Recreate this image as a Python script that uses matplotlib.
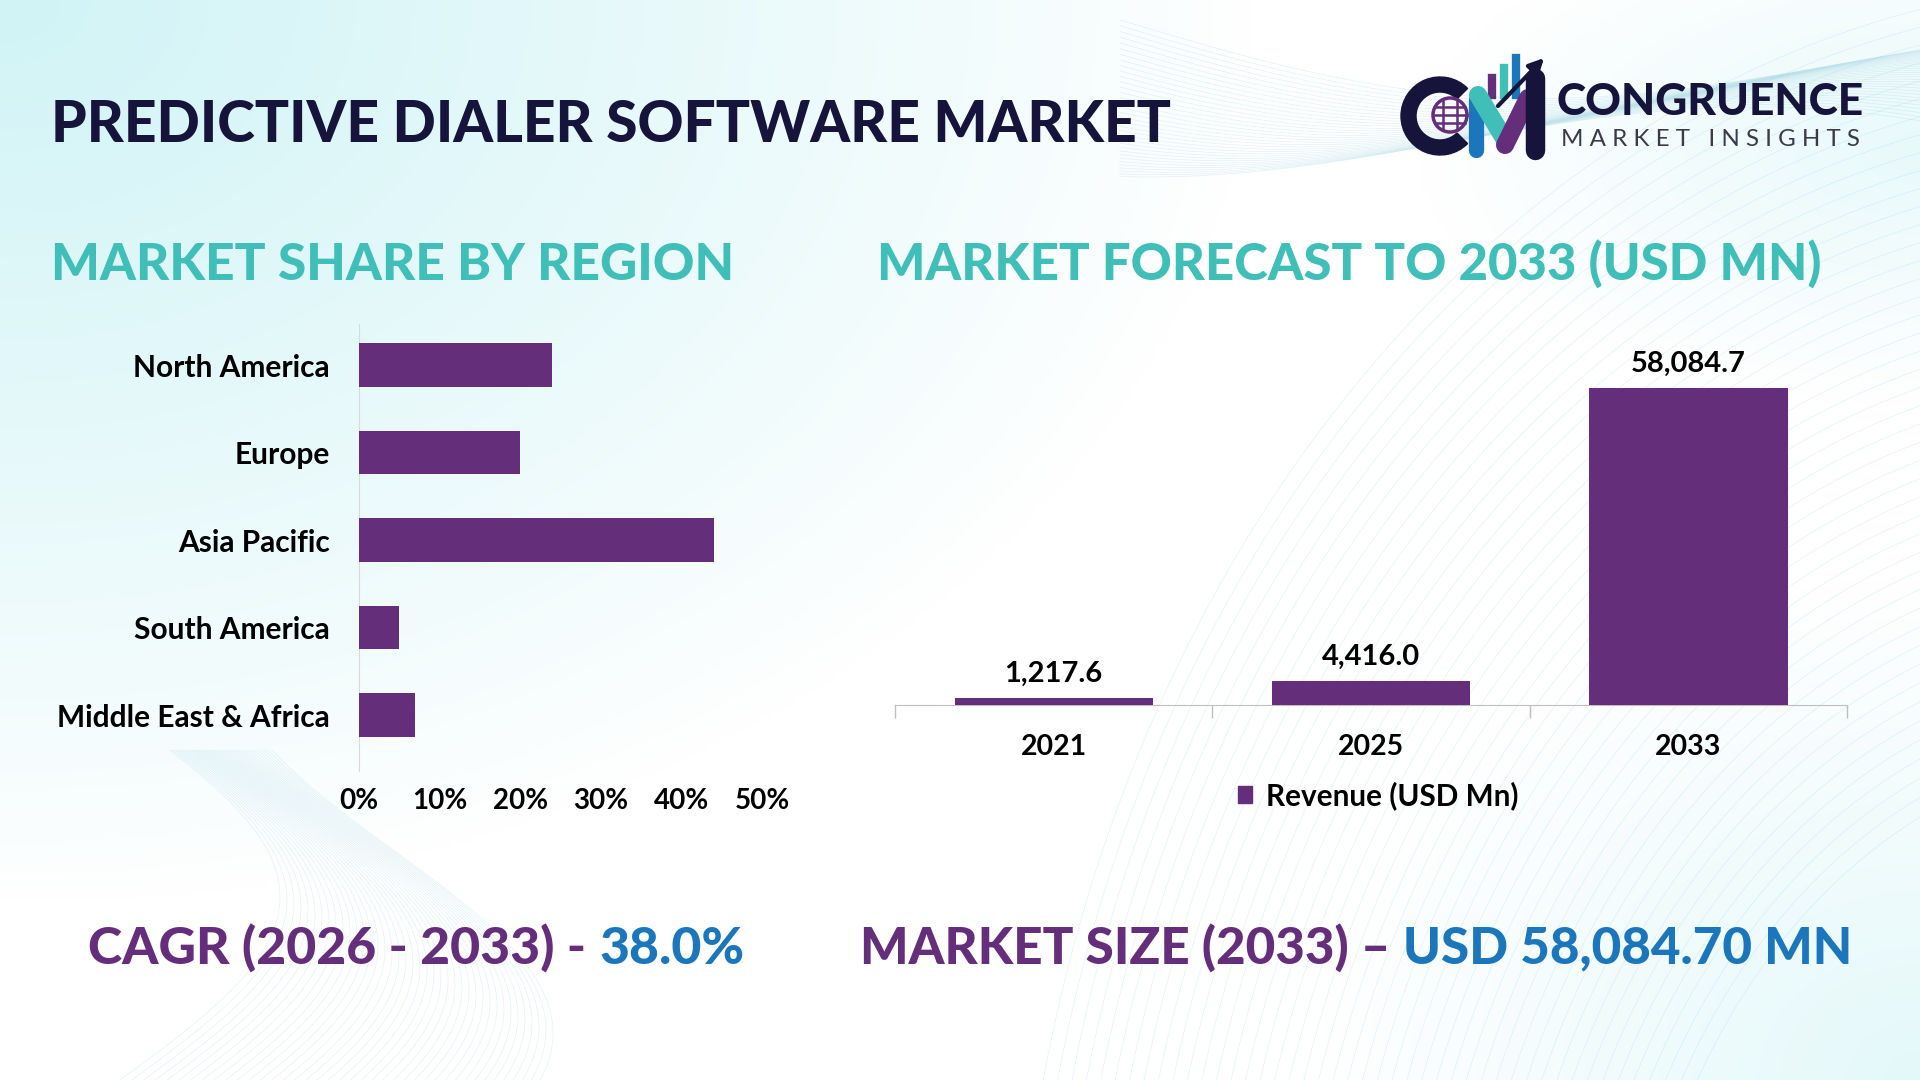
import numpy as np
import matplotlib
matplotlib.use('Agg')
import matplotlib.pyplot as plt
from matplotlib.patches import Patch, Wedge, Circle
from matplotlib import font_manager as fm

# ---------------- data ----------------
regions = ["North America", "Europe", "Asia Pacific", "South America", "Middle East & Africa"]
shares = [24, 20, 44, 5, 7]
share_ticks = [0, 10, 20, 30, 40, 50]
years = ["2021", "2025", "2033"]
revenue = [1217.6, 4416.0, 58084.7]
revenue_labels = ["1,217.6", "4,416.0", "58,084.7"]
title = "PREDICTIVE DIALER SOFTWARE MARKET"
sub_left = "MARKET SHARE BY REGION"
sub_right = "MARKET FORECAST TO 2033 (USD MN)"
cagr_parts = ["CAGR (2026 - 2033) -", "38.0%"]
size_parts = ["MARKET SIZE (2033) \u2013", "USD 58,084.70 MN"]
legend_label = "Revenue (USD Mn)"


def pick(cands):
    names = {f.name for f in fm.fontManager.ttflist}
    for c in cands:
        if c in names:
            return c
    return 'DejaVu Sans'


HEAD = pick(['Lato', 'Roboto', 'DejaVu Sans'])
BODY = pick(['Lato', 'Open Sans', 'DejaVu Sans'])
plt.rcParams['font.family'] = [BODY, 'DejaVu Sans']

PURPLE = '#652e7a'
TEAL = '#3fbfb7'
NAVY = '#16143a'
BLUE = '#1b76bc'

fig = plt.figure(figsize=(19.2, 10.8), dpi=100)
bg = fig.add_axes([0, 0, 1, 1])
bg.set_xlim(0, 1920)
bg.set_ylim(1080, 0)
bg.axis('off')

# background gradient
H, W = 216, 384
yy, xx = np.mgrid[0:H, 0:W]
X = xx * 1920 / W
Y = yy * 1080 / H
w1 = np.clip(1 - np.sqrt((X / 1250) ** 2 + (Y / 900) ** 2), 0, 1) ** 0.9
w2 = np.clip(1 - np.sqrt(((X - 1920) / 600) ** 2 + ((Y - 1080) / 500) ** 2), 0, 1) * 0.6
w3 = np.clip(1 - np.sqrt(((X - 1920) / 500) ** 2 + ((Y - 150) / 250) ** 2), 0, 1) * 0.5
w = np.clip(w1 + w2 + w3, 0, 1)
tint = np.array([0.82, 0.955, 0.965])
img = np.ones((H, W, 3)) * (1 - w[..., None]) + tint * w[..., None]
bg.imshow(img, extent=(0, 1920, 1080, 0), aspect='auto', zorder=0, interpolation='bilinear')

# decorative faint line textures
lc = '#8fcbdc'
for k in range(40):
    t = np.linspace(0, np.pi, 200)
    x = 120 + k * 7 + 160 * np.sin(t * 0.9 + k * 0.03)
    y = 1080 - t / np.pi * 330
    bg.plot(x, y, color=lc, lw=0.5, alpha=0.25, zorder=1)
for k in range(45):
    r = 520 + k * 14
    a = np.linspace(np.pi * 0.55, np.pi * 0.98, 200)
    bg.plot(2150 + r * np.cos(a), 1400 - r * np.sin(a) * 1.25, color=lc, lw=0.5, alpha=0.25, zorder=1)
for k in range(35):
    x = np.linspace(1120, 1920, 200)
    y = 20 + k * 3 + 55 * np.sin((x - 1120) / 230 + k * 0.05) + (x - 1120) * 0.06
    bg.plot(x, y, color=lc, lw=0.5, alpha=0.25, zorder=1)

# ---------------- logo ----------------
bg.add_patch(Wedge((1440, 116), 39, 45, 315, width=15, color=NAVY, zorder=3))
bg.add_patch(Circle((1450, 115), 17, facecolor='none', edgecolor=PURPLE, lw=2.5, zorder=4))
for dy in (-8, 0, 8):
    hw = np.sqrt(max(17 ** 2 - dy ** 2, 0))
    bg.plot([1450 - hw, 1450 + hw], [115 + dy, 115 + dy], color=PURPLE, lw=1.8, zorder=4)
for dx in (-7, 7):
    hh = np.sqrt(17 ** 2 - dx ** 2)
    bg.plot([1450 + dx, 1450 + dx], [115 - hh, 115 + hh], color=PURPLE, lw=1.8, zorder=4)
bg.plot([1476, 1476], [100, 150], color=BLUE, lw=11, solid_capstyle='round', zorder=3)
bg.plot([1478, 1505], [95, 140], color=TEAL, lw=13, solid_capstyle='round', zorder=4)
bg.plot([1505, 1528], [145, 98], color=PURPLE, lw=13, solid_capstyle='round', zorder=4)
bg.plot([1535, 1535], [78, 150], color=NAVY, lw=14, solid_capstyle='round', zorder=5)
bg.plot([1492, 1492], [78, 95], color=PURPLE, lw=6, zorder=3)
bg.plot([1504, 1504], [68, 95], color=TEAL, lw=6, zorder=3)
bg.plot([1516, 1516], [58, 95], color=BLUE, lw=6, zorder=3)
bg.annotate('', xy=(1546, 56), xytext=(1496, 108),
            arrowprops=dict(arrowstyle='-|>', color=NAVY, lw=3, mutation_scale=22), zorder=6)

# ---------------- text helpers ----------------
fig.canvas.draw()
renderer = fig.canvas.get_renderer()


def fit_parts(x0, x1, yc, parts, colors, family, weight, size, gap=0.0):
    texts = [bg.text(0, yc, p, color=c, fontfamily=family, fontweight=weight,
                     fontsize=size, va='center', ha='left', zorder=10)
             for p, c in zip(parts, colors)]
    widths = [t.get_window_extent(renderer).width for t in texts]
    s = (x1 - x0 - gap * (len(parts) - 1)) / (sum(widths))
    for t in texts:
        t.set_fontsize(size * s)
    widths = [t.get_window_extent(renderer).width for t in texts]
    x = x0
    for t, wdt in zip(texts, widths):
        t.set_x(x)
        x += wdt + gap
    return texts


fit_parts(51, 1169, 126, [title], [NAVY], HEAD, 'black', 36)
fit_parts(51, 732, 265, [sub_left], [TEAL], HEAD, 'black', 30)
fit_parts(877, 1820, 265, [sub_right], [TEAL], HEAD, 'black', 30)
fit_parts(88, 743, 949, cagr_parts, [PURPLE, BLUE], HEAD, 'black', 30, gap=13)
fit_parts(860, 1851, 949, size_parts, [PURPLE, BLUE], HEAD, 'black', 30, gap=13)
fit_parts(1557, 1864, 102, ["CONGRUENCE"], [NAVY], HEAD, 'black', 26)
fit_parts(1561, 1860, 140, [" ".join("MARKET") + "   " + " ".join("INSIGHTS")], ['#3a3a48'], BODY, 'normal', 14)

# ---------------- left chart ----------------
ax1 = fig.add_axes([359 / 1920, 1 - 771 / 1080, 403 / 1920, 447 / 1080])
ax1.patch.set_alpha(0)
ypos = np.arange(len(regions))
ax1.barh(ypos, shares, height=0.5, color=PURPLE, zorder=3)
ax1.set_ylim(4.64, -0.47)
ax1.set_xlim(0, 50)
ax1.set_yticks(ypos)
ax1.set_yticklabels(regions)
ax1.set_xticks(share_ticks)
ax1.set_xticklabels([f"{t}%" for t in share_ticks])
for s in ['top', 'right', 'bottom']:
    ax1.spines[s].set_visible(False)
ax1.spines['left'].set_color('#d9d9d9')
ax1.tick_params(axis='y', length=0, pad=21, labelsize=21.5, labelcolor='black')
ax1.tick_params(axis='x', length=0, pad=12, labelsize=20, labelcolor='black')
for lab in ax1.get_xticklabels() + ax1.get_yticklabels():
    lab.set_fontweight('bold')

# ---------------- right chart ----------------
ax2 = fig.add_axes([895 / 1920, 1 - 705 / 1080, 952 / 1920, 382 / 1080])
ax2.patch.set_alpha(0)
xpos = np.arange(len(years))
bars = ax2.bar(xpos, revenue, width=0.625, color=PURPLE, zorder=3)
ax2.set_xlim(-0.5, 2.5)
ax2.set_ylim(0, 70000)
ax2.set_yticks([])
ax2.set_xticks(xpos)
ax2.set_xticklabels(years)
ax2.set_xticks(np.arange(-0.5, 3, 1), minor=True)
ax2.tick_params(axis='x', which='major', length=0, pad=21, labelsize=20.5)
ax2.tick_params(axis='x', which='minor', length=9, width=1, color='#bfbfbf', direction='out')
for lab in ax2.get_xticklabels():
    lab.set_fontweight('bold')
for s in ['top', 'right', 'left']:
    ax2.spines[s].set_visible(False)
ax2.spines['bottom'].set_color('#bfbfbf')
ax2.bar_label(bars, labels=revenue_labels, padding=8, fontsize=21, fontweight='bold')

fig.legend(handles=[Patch(color=PURPLE, label=legend_label)], loc='center',
           bbox_to_anchor=(1378 / 1920, 1 - 796 / 1080), frameon=False,
           handlelength=0.5, handleheight=0.5, handletextpad=0.45,
           prop=dict(family=BODY, weight='bold', size=21.4))

fig.savefig('out.png', dpi=100)
